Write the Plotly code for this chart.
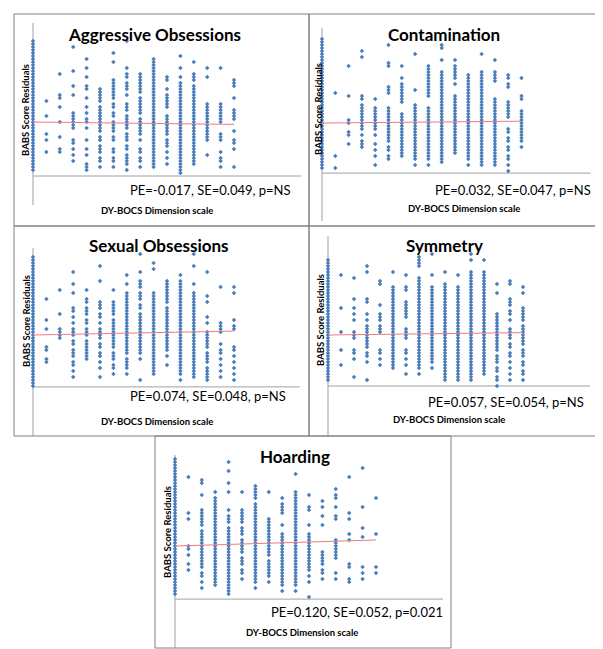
import plotly.graph_objects as go

W, H = 603, 649

# ---------------- data (residuals in arbitrary units, per DY-BOCS scale value 0..15) -------------
scale_values = [0, 1, 2, 3, 4, 5, 6, 7, 8, 9, 10, 11, 12, 13, 14, 15]

aggressive = [
    [27,26,25,24,23,22,21,20,19,18,17,16,15,14,13,12,11,10,9,8,7,6,5,4,3,2,1,0,-1,-2,-3,-4,-5,-6,-7,-8,-9,-10,-11,-12,-13,-14,-15,-16],
    [7,2,-4,-6,-10],
    [16,9,8,5,0,-5,-9,-10],
    [25,17,12,9,3,2,1,0,-1,-2,-6,-7,-9,-11,-13],
    [21,18,15,12,11,8,5,3,1,0,-2,-6,-9,-11,-14,-15,-16],
    [11,10,9,8,7,5,4,3,2,1,0,-1,-2,-3,-5,-6,-8,-9,-10,-12,-13,-15],
    [23,20,14,13,12,11,10,9,8,6,5,3,2,0,-1,-2,-3,-5,-6,-9,-10,-12,-13,-15],
    [27,18,16,15,13,12,11,9,6,5,4,2,1,0,-1,-2,-4,-5,-6,-8,-9,-11,-12,-13,-14,-16],
    [16,15,14,13,12,11,10,8,7,6,5,4,3,1,0,-1,-2,-3,-4,-6,-9,-10,-12,-13,-15],
    [21,20,19,18,17,16,15,14,13,12,11,10,9,8,7,6,5,4,3,2,1,0,-1,-2,-3,-4,-5,-6,-7,-8,-9,-10,-11,-12,-13,-14,-15],
    [15,14,11,9,8,7,6,5,2,1,0,-1,-2,-3,-4,-6,-7,-8,-10,-12,-14],
    [22,18,15,13,12,11,10,9,8,7,6,5,4,3,2,1,0,-1,-2,-3,-4,-5,-6,-7,-8,-9,-10,-11,-12,-13,-14,-15,-16,-17],
    [20,16,15,14,12,11,10,9,8,7,6,5,4,3,2,1,0,-1,-2,-3,-4,-5,-6,-7,-8,-9,-10,-11,-12,-13,-14],
    [18,15,6,5,4,3,2,1,0,-1,-2,-3,-4,-5,-6,-11],
    [18,6,5,4,3,2,1,0,-4,-5,-6,-10,-12,-13,-15],
    [14,13,12,8,4,3,2,1,-3,-6,-7,-9,-15],
]

contamination = [
    [28,27,26,25,24,23,22,21,20,19,18,17,16,15,14,13,12,11,10,9,8,7,6,5,4,3,2,1,0,-1,-2,-3,-4,-5,-6,-7,-8,-9,-10,-11,-12,-13,-14,-15],
    [10,-11,-15],
    [19,9,1,0,-3,-4,-7],
    [24,22,9,8,6,5,4,3,2,1,0,-1,-2,-4,-6,-7,-8],
    [8,5,4,3,2,1,0,-1,-2,-4,-7,-9,-11,-14],
    [26,20,19,12,11,10,5,4,3,2,1,0,-1,-2,-3,-4,-5,-6,-8,-9,-11,-12],
    [19,15,13,12,11,10,9,8,7,3,2,1,0,-1,-2,-3,-4,-5,-6,-7,-8,-9,-10,-11],
    [23,11,6,5,4,3,2,1,0,-1,-2,-3,-4,-5,-6,-7,-8,-9,-10,-11,-12,-14],
    [19,18,17,16,15,14,13,12,11,10,9,5,4,3,2,1,0,-1,-2,-3,-4,-5,-6,-7,-8,-9,-10,-11,-12,-14],
    [26,25,21,17,16,15,14,13,12,11,10,9,8,7,6,5,4,3,2,1,0,-1,-2,-3,-4,-5,-6,-7,-8,-9,-10,-11,-12,-13],
    [21,19,18,17,16,15,13,9,8,7,6,5,4,3,2,1,0,-1,-2,-3,-4,-5,-6,-7,-8,-9,-10],
    [16,15,14,13,12,11,10,9,8,7,6,5,4,3,2,1,0,-1,-2,-3,-4,-5,-6,-7,-8,-9,-10,-11,-12,-14],
    [23,17,16,15,14,13,12,11,10,9,8,7,6,5,4,3,2,1,0,-1,-2,-3,-4,-5,-6,-7,-8,-9,-10,-11,-12,-13,-14],
    [21,17,16,15,14,8,7,6,5,4,3,2,1,0,-1,-2,-3,-4,-5,-6,-7,-8,-9,-10,-11,-12,-13,-14],
    [16,15,13,12,7,6,5,4,3,2,-2,-3,-5,-6,-8,-9,-11,-12,-14,-16],
    [15,9,8,4,3,2,1,0,-1,-2,-3,-4,-5,-6,-8],
]

sexual = [
    [26,25,24,23,22,21,20,19,18,17,16,15,14,13,12,11,10,9,8,7,6,5,4,3,2,1,0,-1,-2,-3,-4,-5,-6,-7,-8,-9,-10,-11,-12,-13,-14,-15,-16,-17],
    [12,5,2,-4,-5,-8,-9],
    [15,7,2,1,0,-1],
    [21,17,14,9,8,6,4,2,1,0,-2,-3,-5,-6,-7,-9,-10,-12,-14],
    [15,12,11,9,8,7,5,4,2,1,0,-2,-3,-4,-5,-6,-7,-8],
    [23,18,11,10,9,7,6,4,2,1,0,-1,-3,-4,-6,-7,-9,-11,-14],
    [15,11,10,9,8,7,5,4,3,2,1,0,-1,-2,-3,-4,-6,-7,-8,-10,-11,-13],
    [20,17,14,13,12,11,10,9,8,7,6,5,4,3,2,1,0,-1,-2,-3,-4,-5,-6,-8,-9,-10,-11,-13],
    [27,21,18,17,16,14,13,12,10,9,7,6,5,4,3,2,1,0,-1,-2,-3,-4,-5,-6,-8,-15],
    [24,22,14,13,12,11,10,9,8,7,6,5,4,3,2,1,0,-1,-2,-3,-4,-5,-6,-7,-8,-9,-10,-11,-12,-13],
    [18,17,16,15,14,13,12,11,9,8,7,6,5,4,3,2,1,0,-1,-2,-3,-4,-5,-7,-10],
    [20,18,17,16,15,14,13,12,11,10,9,8,7,6,5,4,3,2,1,0,-1,-2,-3,-4,-5,-6,-7,-8,-9,-10,-11,-12,-13,-15],
    [27,23,17,14,13,12,11,10,9,8,7,6,5,4,3,2,1,0,-1,-2,-3,-4,-5,-6,-7,-8,-9,-10,-11,-12,-13,-14],
    [21,13,11,6,4,1,0,-1,-2,-3,-4,-6,-7,-8,-9,-11,-12,-13,-14,-15],
    [16,4,3,2,1,-3,-5,-6,-8,-10,-12,-14],
    [16,14,5,3,2,-4,-5,-7,-9,-11,-13,-15],
]

symmetry = [
    [25,24,23,22,21,20,19,18,17,16,15,14,13,12,11,10,9,8,7,6,5,4,3,2,1,0,-1,-2,-3,-4,-5,-6,-7,-8,-9,-10,-11,-12,-13,-14,-15],
    [20,9,1,-5,-10],
    [19,12,9,7,5,1,0,-1,-5,-6,-8,-14],
    [23,21,12,11,7,5,3,2,1,0,-1,-2,-3,-4,-6,-7,-9,-15],
    [18,17,10,7,6,5,3,2,1,-5,-6,-8,-10],
    [21,16,15,14,13,12,11,10,9,8,7,6,5,4,3,2,1,0,-1,-2,-3,-4,-5,-6,-7,-8,-9,-10,-11],
    [20,16,15,11,10,9,8,7,6,2,1,0,-1,-5,-6,-8,-10,-13],
    [26,25,24,23,19,18,17,16,15,14,13,12,11,10,9,8,7,6,5,4,3,2,1,0,-1,-2,-3,-4,-5,-6,-7,-8,-9,-10,-11,-13],
    [27,20,16,15,14,13,12,11,10,9,8,7,6,5,4,3,2,1,0,-1,-2,-3,-4,-5,-6,-7,-8,-9,-11],
    [21,17,16,15,14,13,12,11,10,9,8,7,6,5,4,3,2,1,0,-1,-2,-3,-4,-5,-6,-7,-8,-9,-10,-11,-12,-13,-14,-15],
    [20,16,15,14,13,12,11,10,9,8,7,6,5,4,3,2,1,0,-1,-2,-3,-4,-5,-6,-7,-8,-9,-10,-11,-12,-13,-14,-15],
    [27,25,21,20,19,18,17,16,15,14,13,12,11,10,9,8,7,6,5,4,3,2,1,0,-1,-2,-3,-4,-5,-6,-7,-8,-9,-10,-11,-12,-13,-14,-15],
    [25,21,20,19,18,17,16,15,14,13,12,11,10,9,8,7,6,5,4,3,2,1,0,-1,-2,-3,-4,-5,-6,-7,-8,-9,-10,-11,-12,-13],
    [17,14,7,6,5,4,3,2,1,0,-1,-2,-3,-4,-5,-7,-8,-9,-11,-12,-14,-15,-17],
    [18,17,12,11,10,8,7,5,2,1,0,-1,-3,-4,-6,-7,-9,-11,-13,-15],
    [16,14,9,8,7,6,5,3,2,1,0,-1,-2,-3,-5,-6,-7,-9,-10,-12,-13,-15],
]

hoarding = [
    [29,28,27,26,25,24,23,22,21,20,19,18,17,16,15,14,13,12,11,10,9,8,7,6,5,4,3,2,1,0,-1,-2,-3,-4,-5,-6,-7,-8,-9,-10,-11,-12,-13,-14,-15,-16],
    [23,11,9,0,-1,-3,-6,-8],
    [22,21,17,12,11,10,9,8,7,5,4,3,2,1,0,-1,-2,-3,-4,-5,-6,-7,-9,-10,-12,-14],
    [18,16,15,14,13,12,11,10,9,8,7,6,5,4,3,2,1,0,-1,-2,-3,-4,-5,-6,-7,-8,-9,-10,-11,-12,-13],
    [28,25,21,18,12,10,9,8,6,5,4,3,2,1,0,-1,-2,-3,-4,-5,-6,-7,-8,-9,-10,-11,-12,-13,-14,-15,-16],
    [18,12,11,10,9,8,6,5,4,2,1,0,-1,-2,-4,-5,-6,-8,-9,-11],
    [20,19,18,17,16,14,13,12,11,10,9,8,7,6,5,4,3,2,1,0,-1,-2,-3,-4,-5,-6,-7,-8,-9,-10,-11,-12,-14],
    [18,9,8,7,6,5,4,3,2,1,0,-1,-2,-3,-5,-6,-7,-8,-9,-10,-12],
    [16,14,13,12,11,7,4,3,2,1,0,-1,-2,-3,-4,-5,-6,-7,-8,-9,-10,-11,-12,-13,-15],
    [24,18,17,16,15,14,13,12,11,10,9,8,7,6,5,4,3,2,1,0,-1,-2,-3,-4,-5,-6,-7,-8,-9,-10,-11,-12,-13,-15],
    [17,13,12,7,4,3,2,1,0,-1,-2,-3,-4,-5,-6,-7,-8,-10,-12,-17],
    [15,13,10,7,-2,-3,-4,-5,-6,-8,-9,-11],
    [19,17,16,13,10,9,2,1,0,-1,-2,-3,-4,-9,-11],
    [23,11,9,4,2,-6,-7,-11,-12],
    [26,13,6,3,-7,-9,-11],
    [16,4,-7,-9],
]

titles = ["Aggressive Obsessions", "Contamination", "Sexual Obsessions", "Symmetry", "Hoarding"]
stats = ["PE=-0.017, SE=0.049, p=NS", "PE=0.032, SE=0.047, p=NS", "PE=0.074, SE=0.048, p=NS",
         "PE=0.057, SE=0.054, p=NS", "PE=0.120, SE=0.052, p=0.021"]
trend_x = [0, 15]
trend_y = [[0, -0.8], [0, 0.6], [0, 1.3], [0, 0.8], [0, 2.0]]
x_title = "DY-BOCS Dimension scale"
y_title = "BABS Score Residuals"

datasets = [aggressive, contamination, sexual, symmetry, hoarding]

# ---------------- layout geometry (pixels) ----------------
# title / xt: left edge + vertical centre; stat: right edge; yt: centre of rotated label
panels = [
    dict(box=(6, 6, 301, 218), x0=25, sp=13.4, red=114, top=15, bottom=197, xcross=-18.0, xend=20,
         title=(58, 27), stat=(285, 182), xt=(91, 202), yt=(17, 102)),
    dict(box=(301, 6, 591, 218), x0=314, sp=13.3, red=115, top=20, bottom=213, xcross=-16.7, xend=20.2,
         title=(378, 27), stat=(585, 182), xt=(398, 201), yt=(310, 101)),
    dict(box=(6, 218, 301, 428), x0=25, sp=13.4, red=327, top=240, bottom=428, xcross=-17.3, xend=19.9,
         title=(79, 238), stat=(280, 388), xt=(91, 413), yt=(18, 313)),
    dict(box=(301, 218, 590, 428), x0=320, sp=13.0, red=327, top=228, bottom=428, xcross=-17.0, xend=20.15,
         title=(396, 238), stat=(578, 394), xt=(383, 412), yt=(312, 312)),
    dict(box=(147, 428, 443, 640), x0=167, sp=13.4, red=538, top=447, bottom=640, xcross=-17.7, xend=20,
         title=(250, 448), stat=(437, 604), xt=(236, 624), yt=(159, 524)),
]

UNIT = 3.0  # px per residual unit
FONT = "Lato, 'Open Sans', sans-serif"
BLUE = "#4a7ebb"
RED = "#ee7a82"
AXIS = "#a0a0a0"
BORDER = "#808080"

fig = go.Figure()
shapes, annotations = [], []
layout_axes = {}

def px_x(p):
    return p / W

def px_y(p):
    return 1 - p / H

for i, (p, data) in enumerate(zip(panels, datasets)):
    n = i + 1
    xa = "x" if n == 1 else f"x{n}"
    ya = "y" if n == 1 else f"y{n}"
    xkey = "xaxis" if n == 1 else f"xaxis{n}"
    ykey = "yaxis" if n == 1 else f"yaxis{n}"

    xr = [-1.5, 20.5]
    left = p["x0"] + xr[0] * p["sp"]
    right = p["x0"] + xr[1] * p["sp"]
    yr = [(p["red"] - p["bottom"]) / UNIT, (p["red"] - p["top"]) / UNIT]

    layout_axes[xkey] = dict(domain=[px_x(left), px_x(right)], range=xr, anchor=ya,
                             visible=False, fixedrange=True)
    layout_axes[ykey] = dict(domain=[px_y(p["bottom"]), px_y(p["top"])], range=yr, anchor=xa,
                             visible=False, fixedrange=True)

    xs, ys = [], []
    for sv, col in zip(scale_values, data):
        for v in col:
            xs.append(sv)
            ys.append(v)

    fig.add_trace(go.Scatter(x=xs, y=ys, mode="markers", xaxis=xa, yaxis=ya,
                             marker=dict(symbol="diamond", size=3.4, color=BLUE, line=dict(width=0)),
                             cliponaxis=False, showlegend=False, hoverinfo="skip"))
    fig.add_trace(go.Scatter(x=trend_x, y=trend_y[i], mode="lines", xaxis=xa, yaxis=ya,
                             line=dict(color=RED, width=1), showlegend=False, hoverinfo="skip"))

    shapes.append(dict(type="line", xref=xa, yref=f"{ya} domain", x0=0, x1=0, y0=0, y1=1,
                       line=dict(color=AXIS, width=1), layer="below"))
    shapes.append(dict(type="line", xref=xa, yref=ya, x0=0, x1=p["xend"], y0=p["xcross"], y1=p["xcross"],
                       line=dict(color=AXIS, width=1), layer="below"))
    bx0, by0, bx1, by1 = p["box"]
    shapes.append(dict(type="rect", xref="paper", yref="paper", x0=px_x(bx0), x1=px_x(bx1),
                       y0=px_y(by1), y1=px_y(by0), line=dict(color=BORDER, width=1)))

    annotations.append(dict(text=titles[i], x=px_x(p["title"][0]), y=px_y(p["title"][1]),
                            xref="paper", yref="paper", xanchor="left", align="left", yanchor="middle",
                            showarrow=False,
                            font=dict(family=FONT, size=17, color="#000000", weight="bold")))
    annotations.append(dict(text=stats[i], x=px_x(p["stat"][0]), y=px_y(p["stat"][1]),
                            xref="paper", yref="paper", xanchor="right", align="right", yanchor="middle",
                            showarrow=False, font=dict(family=FONT, size=13, color="#000000")))
    annotations.append(dict(text=x_title, x=px_x(p["xt"][0]), y=px_y(p["xt"][1]),
                            xref="paper", yref="paper", xanchor="left", align="left", yanchor="middle",
                            showarrow=False,
                            font=dict(family=FONT, size=9.5, color="#000000", weight="bold")))
    annotations.append(dict(text=y_title, x=px_x(p["yt"][0]), y=px_y(p["yt"][1]),
                            xref="paper", yref="paper", xanchor="center", yanchor="middle",
                            textangle=-90, showarrow=False,
                            font=dict(family=FONT, size=9.5, color="#000000", weight="bold")))

fig.update_layout(
    width=W, height=H,
    margin=dict(l=0, r=0, t=0, b=0),
    paper_bgcolor="white", plot_bgcolor="rgba(0,0,0,0)",
    shapes=shapes, annotations=annotations,
    **layout_axes,
)

fig.write_html("out.html", config={"displayModeBar": False})
